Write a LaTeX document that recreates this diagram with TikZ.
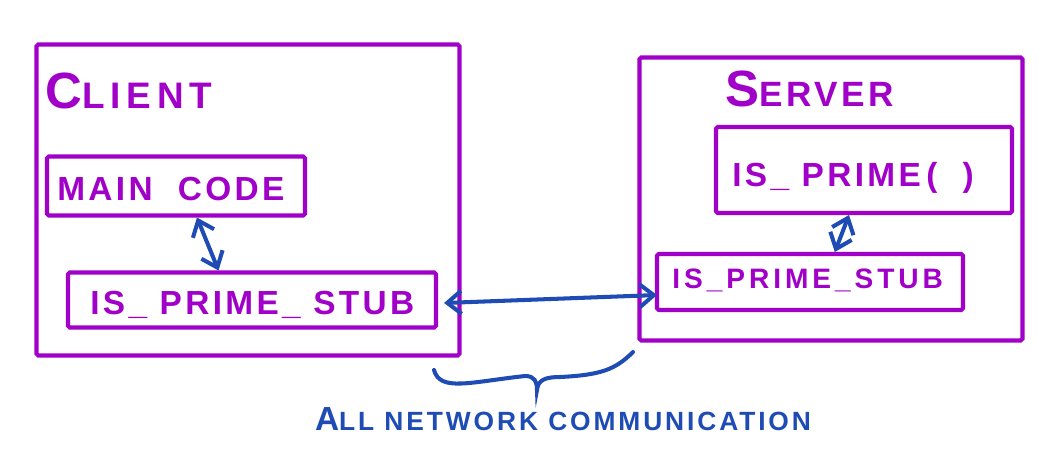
\documentclass[tikz,border=0pt]{standalone}
\usepackage{fontspec}
\setmainfont{Liberation Sans}
\newfontfamily\hand[LetterSpace=10]{Liberation Sans}
\usetikzlibrary{arrows.meta,calc}
\definecolor{penpurple}{RGB}{160,0,200}
\definecolor{penblue}{RGB}{30,75,180}
\begin{document}
\begin{tikzpicture}[x=0.02cm,y=-0.02cm,
  box/.style={draw=penpurple,line width=2.3pt,rounded corners=1pt,inner sep=0pt},
  lbl/.style={text=penpurple,font=\hand,inner sep=0pt},
  link/.style={draw=penblue,line width=2.3pt,line cap=round,{Straight Barb[length=8pt,width=13pt,line width=2.3pt]}-{Straight Barb[length=8pt,width=13pt,line width=2.3pt]}}]
\useasboundingbox (0,0) rectangle (1057,454);
% outer boxes
\node[box,minimum width=423*0.02cm,minimum height=311*0.02cm] (client) at (248,200) {};
\node[box,minimum width=383*0.02cm,minimum height=283*0.02cm] (server) at (831,199) {};
% inner boxes
\node[box,minimum width=258*0.02cm,minimum height=59*0.02cm] (main) at (176,186) {};
\node[box,minimum width=368*0.02cm,minimum height=55*0.02cm] (stubL) at (252,300) {};
\node[box,minimum width=296*0.02cm,minimum height=86*0.02cm] (prime) at (864,170) {};
\node[box,minimum width=306*0.02cm,minimum height=56*0.02cm] (stubR) at (810,282) {};
% titles
\node[lbl,anchor=base west] (clientT) at (45,108) {\fontsize{29}{30}\selectfont\bfseries C\addfontfeatures{LetterSpace=16}\fontsize{21}{22}\selectfont LIENT};
\node[lbl,anchor=base west] (serverT) at (725,106) {\fontsize{29}{30}\selectfont\bfseries S\fontsize{20}{22}\selectfont ERVER};
% box texts
\node[lbl,anchor=base west] (mainT) at (57,200) {\fontsize{19}{20}\selectfont\bfseries MAIN\ \ CODE};
\node[lbl,anchor=base west] (stubLT) at (90,314) {\fontsize{19}{20}\selectfont\bfseries IS\_ PRIME\_ STUB};
\node[lbl,anchor=base west] (primeT) at (732,186) {\fontsize{19}{20}\selectfont\bfseries IS\_ PRIME\,(\ \ )};
\node[lbl,anchor=base west] (stubRT) at (672,288) {\fontsize{16}{17}\selectfont\bfseries\addfontfeatures{LetterSpace=14}IS\_PRIME\_STUB};
% connectors
\draw[link] ($(main.south west)!0.58!(main.south east)$) -- ($(stubL.north west)!0.41!(stubL.north east)$);
\draw[link] ($(prime.south west)!0.45!(prime.south east)$) -- ($(stubR.north west)!0.58!(stubR.north east)$);
\draw[link] ($(stubL.east)+(6,3)$) -- ($(stubR.west)+(2,13)$);
% brace
\coordinate (bl) at (434,370);
\coordinate (bt) at (537,390);
\coordinate (br) at (633,352);
\draw[penblue,line width=2.3pt,line cap=round]
  (bl) .. controls (440,392) and (470,382) .. (525,376)
  .. controls (535,376) and (537,382) .. (bt)
  .. controls (538,380) and (545,377) .. (560,377)
  .. controls (600,375) and (615,370) .. (br);
\node[text=penblue,font=\hand,anchor=base] (note) at (563,430) {\fontsize{19}{20}\selectfont\bfseries A\addfontfeatures{LetterSpace=11}\fontsize{15}{16}\selectfont LL NETWORK COMMUNICATION};
\end{tikzpicture}
\end{document}
